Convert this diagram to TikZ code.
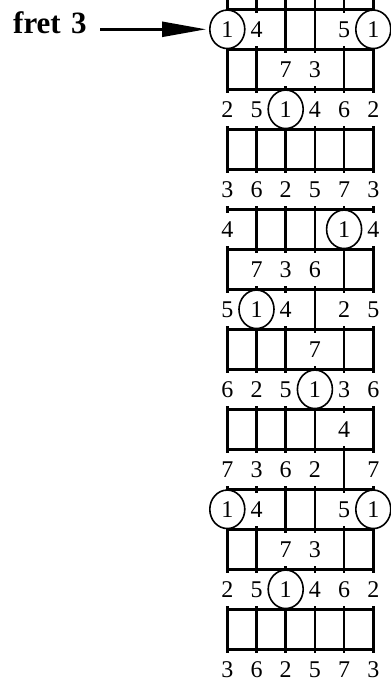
\documentclass[tikz,border=0pt]{standalone}
\usepackage{fontspec}
\setmainfont{Liberation Serif}
\usetikzlibrary{arrows.meta,shapes.geometric}
\newcommand\Lab[3]{\node[lbl] (L#1-#2) at ({227.3+29.2*(#2-1)},{29.3+40*#1}) {#3};}
\newcommand\Rng[3]{\node[ring] (L#1-#2) at ({227.3+29.2*(#2-1)},{29.3+40*#1}) {#3};}
\begin{document}
\begin{tikzpicture}[x=1pt,y=-1pt,
  fretline/.style={line width=2.6pt},
  lbl/.style={fill=white, inner sep=0pt, minimum width=14pt, minimum height=33pt, font=\fontsize{24}{27}\selectfont},
  ring/.style={draw, line width=1.6pt, fill=white, ellipse, inner sep=0pt, minimum width=35pt, minimum height=38.5pt, font=\fontsize{24}{27}\selectfont},
  arr/.style={line width=2.4pt, -{Triangle[length=44pt,width=15pt]}}
]
\useasboundingbox (0,0) rectangle (391,686);
% strings
\foreach \x in {227.3,256.5,285.7,314.9,344.1,373.3} \draw[fretline] (\x,0) -- (\x,686);
% frets
\foreach \k in {0,...,16} \draw[fretline] (227.3,{9.3+40*\k}) -- (373.3,{9.3+40*\k});
% row 0
\Rng{0}{1}{1}\Lab{0}{2}{4}\Lab{0}{5}{5}\Rng{0}{6}{1}
% row 1
\Lab{1}{3}{7}\Lab{1}{4}{3}
% row 2
\Lab{2}{1}{2}\Lab{2}{2}{5}\Rng{2}{3}{1}\Lab{2}{4}{4}\Lab{2}{5}{6}\Lab{2}{6}{2}
% row 4
\Lab{4}{1}{3}\Lab{4}{2}{6}\Lab{4}{3}{2}\Lab{4}{4}{5}\Lab{4}{5}{7}\Lab{4}{6}{3}
% row 5
\Lab{5}{1}{4}\Rng{5}{5}{1}\Lab{5}{6}{4}
% row 6
\Lab{6}{2}{7}\Lab{6}{3}{3}\Lab{6}{4}{6}
% row 7
\Lab{7}{1}{5}\Rng{7}{2}{1}\Lab{7}{3}{4}\Lab{7}{5}{2}\Lab{7}{6}{5}
% row 8
\Lab{8}{4}{7}
% row 9
\Lab{9}{1}{6}\Lab{9}{2}{2}\Lab{9}{3}{5}\Rng{9}{4}{1}\Lab{9}{5}{3}\Lab{9}{6}{6}
% row 10
\Lab{10}{5}{4}
% row 11
\Lab{11}{1}{7}\Lab{11}{2}{3}\Lab{11}{3}{6}\Lab{11}{4}{2}\Lab{11}{6}{7}
% row 12
\Rng{12}{1}{1}\Lab{12}{2}{4}\Lab{12}{5}{5}\Rng{12}{6}{1}
% row 13
\Lab{13}{3}{7}\Lab{13}{4}{3}
% row 14
\Lab{14}{1}{2}\Lab{14}{2}{5}\Rng{14}{3}{1}\Lab{14}{4}{4}\Lab{14}{5}{6}\Lab{14}{6}{2}
% row 16
\Lab{16}{1}{3}\Lab{16}{2}{6}\Lab{16}{3}{2}\Lab{16}{4}{5}\Lab{16}{5}{7}\Lab{16}{6}{3}
% label and arrow
\node[font=\bfseries\fontsize{31}{34}\selectfont, inner sep=0pt, anchor=base west] (fretlbl) at (13,33) {fret\hspace{0.33em}3};
\coordinate (astart) at (100,29.3);
\draw[arr, shorten >=3pt] (astart) -- (L0-1);
\end{tikzpicture}
\end{document}
